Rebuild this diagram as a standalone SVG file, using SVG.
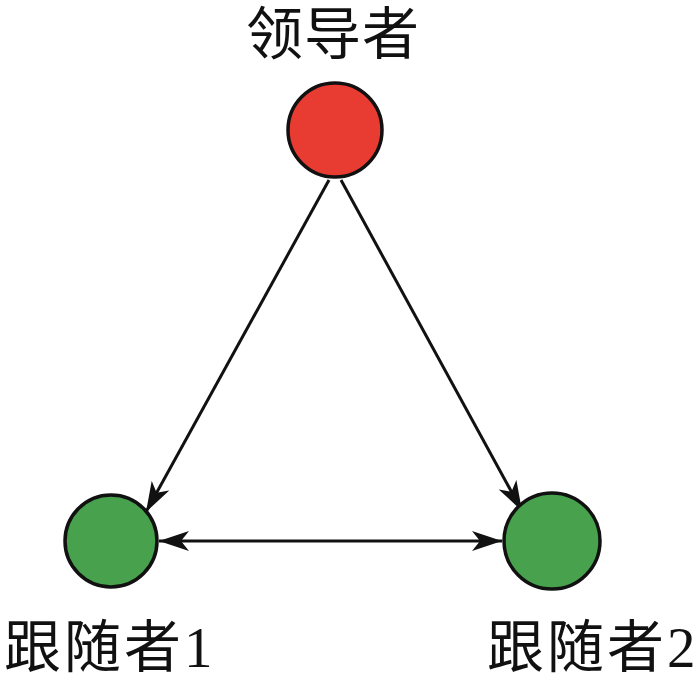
<svg xmlns="http://www.w3.org/2000/svg" width="700" height="684" viewBox="0 0 700 684">
<style>
.lbl{font-family:"Liberation Serif","Noto Sans CJK SC",serif;font-size:57px;fill:#111;letter-spacing:1px}
.fl{letter-spacing:3px}
.node{stroke:#111;stroke-width:3.5}
.edge{stroke:#111;stroke-width:3;fill:none}
</style>
<defs>
<marker id="ah" viewBox="0 0 30 20" refX="30" refY="10" markerWidth="30" markerHeight="20" markerUnits="userSpaceOnUse" orient="auto-start-reverse">
<path d="M0,0 L30,10 L0,20 L8,10 Z" fill="#111"/>
</marker>
</defs>
<rect width="700" height="684" fill="#fff"/>
<g id="connectors">
<line class="edge" x1="329" y1="180" x2="146" y2="512" marker-end="url(#ah)"/>
<line class="edge" x1="341" y1="180" x2="522" y2="511" marker-end="url(#ah)"/>
<line class="edge" x1="159" y1="541" x2="502" y2="541" marker-start="url(#ah)" marker-end="url(#ah)"/>
</g>
<g id="leader">
<circle class="node" cx="335" cy="130" r="47" fill="#e83b32"/>
<text class="lbl" x="333" y="54" text-anchor="middle">领导者</text>
</g>
<g id="follower1">
<circle class="node" cx="111" cy="541" r="46" fill="#47a14d"/>
<text class="lbl fl" x="4" y="667">跟随者1</text>
</g>
<g id="follower2">
<circle class="node" cx="552" cy="541" r="48" fill="#47a14d"/>
<text class="lbl fl" x="487" y="667">跟随者2</text>
</g>
</svg>
